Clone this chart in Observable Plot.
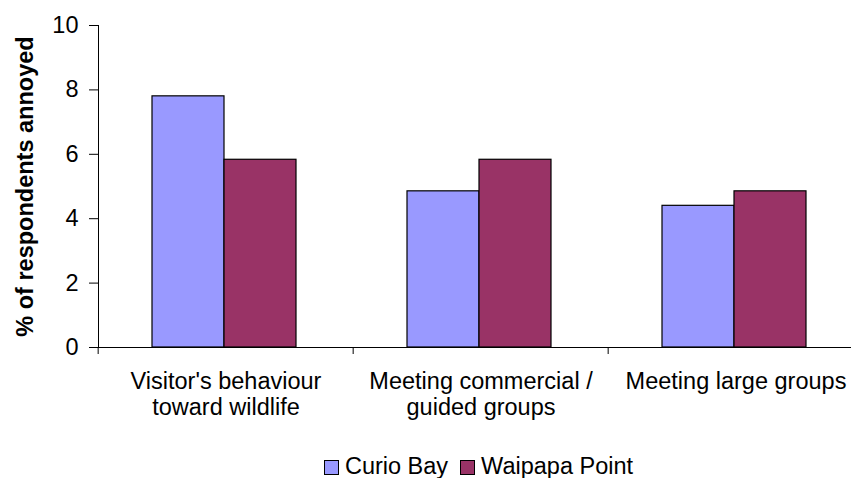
<!DOCTYPE html>
<html><head><meta charset="utf-8">
<script src="https://cdn.jsdelivr.net/npm/d3@7"></script>
<script src="https://cdn.jsdelivr.net/npm/@observablehq/plot@0.6"></script>
<style>
body{margin:0;background:#fff;font-family:"Liberation Sans",Arial,sans-serif;overflow:hidden}
#wrap{position:relative;width:851px;height:478px;overflow:hidden}
#legend{position:absolute;left:95px;width:767px;top:453px;height:27px;display:flex;justify-content:center;align-items:center;font-size:23.5px;color:#000;white-space:nowrap}
.item{display:flex;align-items:center;margin:0 6px}
.sw{width:13px;height:13px;border:1px solid #000;margin-right:6px;margin-top:2px;box-sizing:content-box}
g[aria-label="y-axis label"] text{font-weight:bold}
</style></head><body><div id="wrap"><div id="chart"></div><div id="legend"></div></div>
<script>
const categories = ["Visitor's behaviour\ntoward wildlife", "Meeting commercial /\nguided groups", "Meeting large groups"];
const series = ["Curio Bay", "Waipapa Point"];
const curioBay = [7.8, 4.85, 4.4];
const waipapaPoint = [5.83, 5.83, 4.85];
const colors = ["#9999FF", "#993366"];
const yTicks = [0, 2, 4, 6, 8, 10];
const yLabel = "% of respondents annoyed";

const values = [curioBay, waipapaPoint];
const data = categories.flatMap((c, i) => series.map((s, j) => ({category: c, site: s, value: values[j][i]})));

const W = 851, mL = 97, mR = -13;
const bw = (W - mL - mR) / categories.length;

const chart = Plot.plot({
  width: W, height: 440,
  marginLeft: mL, marginRight: mR, marginTop: 25, marginBottom: 93,
  style: {fontFamily: '"Liberation Sans", Arial, sans-serif', fontSize: "23.5px", color: "#000", background: "#fff"},
  fx: {domain: categories, padding: 0, label: null},
  x: {domain: series, paddingInner: 0, paddingOuter: 0.757, align: 0.485, axis: null},
  y: {domain: [0, 10], label: null},
  color: {domain: series, range: colors},
  marks: [
    Plot.barY(data, {fx: "category", x: "site", y: "value", fill: "site", stroke: "#000", strokeWidth: 1.2}),
    Plot.ruleY([0], {stroke: "#000"}),
    Plot.frame({anchor: "left", facetAnchor: "left", stroke: "#000"}),
    Plot.axisY({ticks: yTicks, tickSize: 9, tickPadding: 11, tickFormat: d => String(d), label: yLabel, labelAnchor: "center", labelOffset: 82, labelArrow: false, stroke: "#000"}),
    Plot.axisFx({anchor: "bottom", tickSize: 0, tickPadding: 23, lineHeight: 1.11, label: null}),
    Plot.axisFx({anchor: "bottom", tickSize: 7, text: null, dx: -bw / 2, label: null, stroke: "#000"})
  ]
});
document.getElementById("chart").appendChild(chart);

const legend = document.getElementById("legend");
series.forEach((s, i) => {
  const item = document.createElement("div");
  item.className = "item";
  const sw = document.createElement("span");
  sw.className = "sw";
  sw.style.background = colors[i];
  const t = document.createElement("span");
  t.textContent = s;
  item.appendChild(sw); item.appendChild(t);
  legend.appendChild(item);
});
</script>
</body></html>
